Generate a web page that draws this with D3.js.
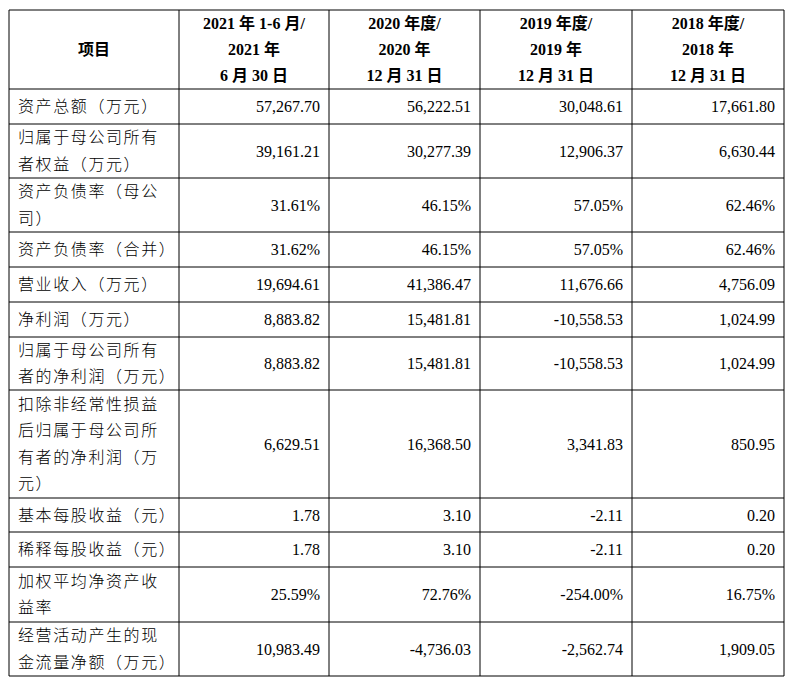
<!DOCTYPE html><html><head><meta charset="utf-8"><script src="https://cdn.jsdelivr.net/npm/d3@7"></script>
<style>body{margin:0;background:#fff}text{font-family:"Liberation Serif","Noto Sans CJK SC",serif;fill:#000}</style></head><body><svg id="c" width="788" height="683"></svg>
<script>
const headers=[["项目"],["2021 年 1-6 月/","2021 年","6 月 30 日"],["2020 年度/","2020 年","12 月 31 日"],["2019 年度/","2019 年","12 月 31 日"],["2018 年度/","2018 年","12 月 31 日"]];
const items=[["资产总额（万元）"],["归属于母公司所有","者权益（万元）"],["资产负债率（母公","司）"],["资产负债率（合并）"],["营业收入（万元）"],["净利润（万元）"],["归属于母公司所有","者的净利润（万元）"],["扣除非经常性损益","后归属于母公司所","有者的净利润（万","元）"],["基本每股收益（元）"],["稀释每股收益（元）"],["加权平均净资产收","益率"],["经营活动产生的现","金流量净额（万元）"]];
const v2021=["57,267.70","39,161.21","31.61%","31.62%","19,694.61","8,883.82","8,883.82","6,629.51","1.78","1.78","25.59%","10,983.49"];
const v2020=["56,222.51","30,277.39","46.15%","46.15%","41,386.47","15,481.81","15,481.81","16,368.50","3.10","3.10","72.76%","-4,736.03"];
const v2019=["30,048.61","12,906.37","57.05%","57.05%","11,676.66","-10,558.53","-10,558.53","3,341.83","-2.11","-2.11","-254.00%","-2,562.74"];
const v2018=["17,661.80","6,630.44","62.46%","62.46%","4,756.09","1,024.99","1,024.99","850.95","0.20","0.20","16.75%","1,909.05"];
const colX=[9,179,329,480,632,784];
const rowY=[10,89,124,178,232,267,302,337,390,498,532,567,622,676];
const svg=d3.select("#c");
const cols=[v2021,v2020,v2019,v2018];
// header
headers.forEach((h,i)=>{
  const cx=(colX[i]+colX[i+1])/2, cy=(rowY[0]+rowY[1])/2, n=h.length;
  h.forEach((t,k)=>svg.append("text").attr("x",cx).attr("y",cy+(k-(n-1)/2)*26).attr("dy","0.35em")
    .attr("text-anchor","middle").attr("font-size",16).attr("font-weight","bold").text(t));
});
items.forEach((lines,r)=>{
  const y0=rowY[r+1],y1=rowY[r+2],cy=(y0+y1)/2,n=lines.length;
  lines.forEach((t,k)=>svg.append("text").attr("x",18).attr("y",cy+(k-(n-1)/2)*26.5).attr("dy","0.35em")
    .attr("font-size",16).attr("letter-spacing","1.6px").attr("font-family","Noto Sans CJK SC").attr("font-weight",300).text(t));
  cols.forEach((c,j)=>svg.append("text").attr("x",colX[j+2]-9).attr("y",cy).attr("dy","0.35em")
    .attr("text-anchor","end").attr("font-size",16).text(c[r]));
});
const g=svg.append("g").attr("stroke","#000").attr("stroke-width",1);
colX.forEach(x=>g.append("line").attr("x1",x).attr("x2",x).attr("y1",rowY[0]).attr("y2",rowY[rowY.length-1]));
rowY.forEach(y=>g.append("line").attr("x1",colX[0]).attr("x2",colX[5]).attr("y1",y).attr("y2",y));
</script></body></html>
